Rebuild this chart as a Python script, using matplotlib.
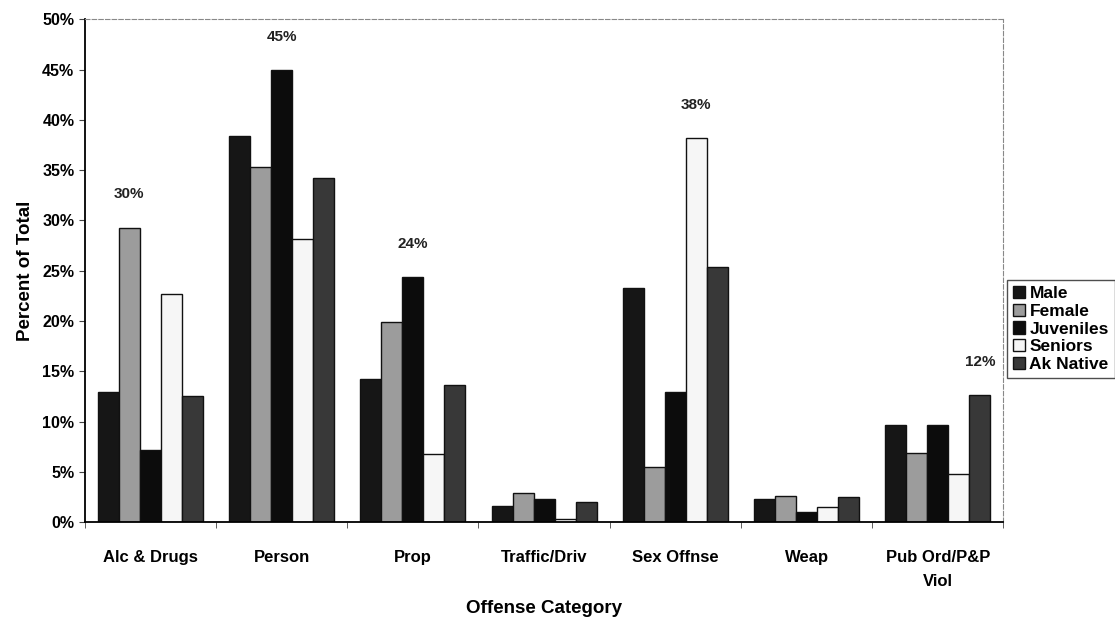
import numpy as np
import matplotlib.pyplot as plt

plt.rcParams['font.family'] = ['Liberation Sans', 'DejaVu Sans']
plt.rcParams['font.weight'] = 'bold'

categories = ['Alc & Drugs', 'Person', 'Prop', 'Traffic/Driv', 'Sex Offnse', 'Weap', 'Pub Ord/P&P\nViol']
series_names = ['Male', 'Female', 'Juveniles', 'Seniors', 'Ak Native']
male = [12.9, 38.4, 14.2, 1.6, 23.3, 2.3, 9.7]
female = [29.3, 35.3, 19.9, 2.9, 5.5, 2.6, 6.9]
juveniles = [7.2, 45.0, 24.4, 2.3, 12.9, 1.0, 9.7]
seniors = [22.7, 28.2, 6.8, 0.3, 38.2, 1.5, 4.8]
ak_native = [12.5, 34.2, 13.6, 2.0, 25.4, 2.5, 12.6]

# labels printed above the tallest bar of some groups
label_groups = [0, 1, 2, 4, 6]
label_texts = ['30%', '45%', '24%', '38%', '12%']

colors = ['#161616', '#9c9c9c', '#0c0c0c', '#f6f6f6', '#383838']
data = [male, female, juveniles, seniors, ak_native]

fig = plt.figure(figsize=(11.15, 6.26), dpi=100)
ax = fig.add_axes([0.076, 0.166, 0.824, 0.803])

x = np.arange(len(categories))
w = 0.16
offsets = [-2 * w, -w, 0, w, 2 * w]
for vals, name, c, off in zip(data, series_names, colors, offsets):
    ax.bar(x + off, vals, width=w, color=c, edgecolor='#111111', linewidth=1.0, label=name)

arr = np.array(data)
for g, t in zip(label_groups, label_texts):
    k = int(np.argmax(arr[:, g]))
    ax.text(x[g] + offsets[k], arr[k, g] + 2.6, t, ha='center', va='bottom',
            fontsize=11, fontweight='bold', color='#222222')

ax.set_xlim(-0.5, len(categories) - 0.5)
ax.set_ylim(0, 50)
ax.set_yticks(np.arange(0, 51, 5))
ax.set_yticklabels([f'{v}%' for v in range(0, 51, 5)])
ax.set_xticks(x)
ax.set_xticklabels(categories, linespacing=1.75)
ax.set_xticks(np.arange(-0.5, len(categories), 1), minor=True)
ax.tick_params(axis='x', which='major', length=0, pad=20, labelsize=12)
ax.tick_params(axis='x', which='minor', length=4, direction='out', color='#444444')
ax.tick_params(axis='y', length=4, labelsize=11.5, color='#444444')

ax.spines['left'].set_linewidth(1.3)
ax.spines['bottom'].set_linewidth(1.3)
for s in ['top', 'right']:
    ax.spines[s].set_linestyle((0, (4, 2)))
    ax.spines[s].set_color('#888888')
    ax.spines[s].set_linewidth(0.8)

ax.set_xlabel('Offense Category', fontsize=13.5, fontweight='bold', labelpad=8)
ax.set_ylabel('Percent of Total', fontsize=13.5, fontweight='bold', labelpad=6)

leg = fig.legend(loc='upper left', bbox_to_anchor=(0.903, 0.553), fontsize=12.5,
                 handlelength=0.7, handleheight=0.7, handletextpad=0.25,
                 labelspacing=0.15, borderpad=0.35, fancybox=False, frameon=True,
                 borderaxespad=0)
leg.get_frame().set_edgecolor('#222222')
leg.get_frame().set_linewidth(1.0)
for t in leg.get_texts():
    t.set_fontweight('bold')

fig.savefig('out.png', dpi=100)
